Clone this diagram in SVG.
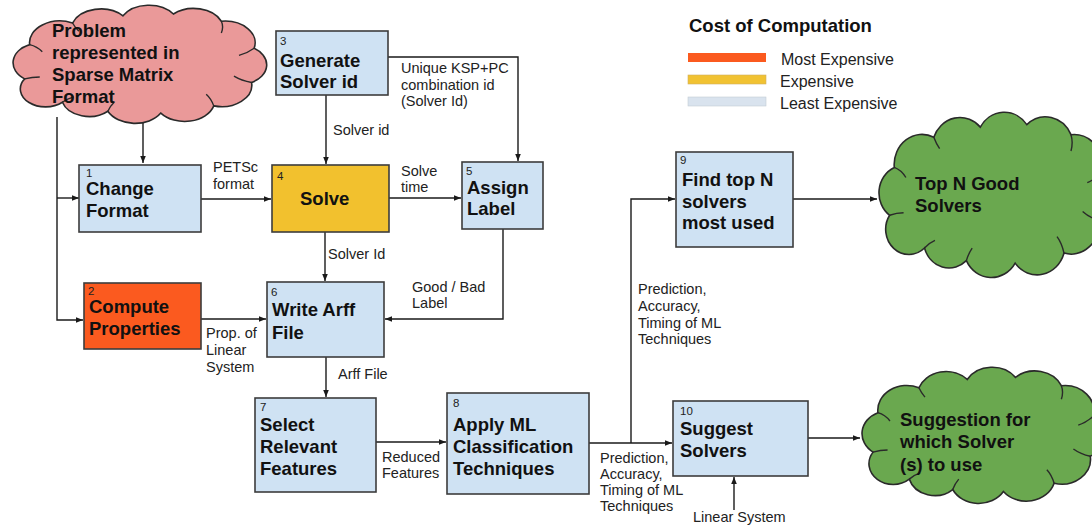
<svg xmlns="http://www.w3.org/2000/svg" xmlns:xlink="http://www.w3.org/1999/xlink" width="1092" height="531" viewBox="0 0 1092 531">
  <style>
    .box { fill: #cfe2f3; stroke: #3c3c3c; stroke-width: 1.6; }
    .title { font-family: "Liberation Sans", Arial, sans-serif; font-weight: bold; font-size: 18.5px; fill: #111; }
    .num { font-family: "Liberation Sans", Arial, sans-serif; font-size: 11.5px; fill: #222; }
    .lbl { font-family: "Liberation Sans", Arial, sans-serif; font-size: 14.5px; fill: #222; }
    .legend { font-family: "Liberation Sans", Arial, sans-serif; font-size: 16px; fill: #222; }
    .conn { fill: none; stroke: #1a1a1a; stroke-width: 1.4; }
    .cloud-edge { stroke: #2a2a2a; stroke-width: 1.6; }
    .cloud-inner { fill: none; stroke: #2a2a2a; stroke-width: 1.4; }
  </style>
  <defs>
    <marker id="arrow" viewBox="0 0 10 10" refX="10" refY="5" markerWidth="7" markerHeight="7" markerUnits="userSpaceOnUse" orient="auto">
      <path d="M0,1 L10,5 L0,9 Z" fill="#1a1a1a"/>
    </marker>
    <!-- generic cloud outline, stretched per node -->
    <symbol id="cloud" viewBox="0 -4 203 131" preserveAspectRatio="none" overflow="visible">
      <path class="cloud-edge" vector-effect="non-scaling-stroke" d="M10,78 A22,22 0 0 1 14,40 A24,24 0 0 1 48,16 A24,24 0 0 1 88,8 A24,24 0 0 1 128,6 A24,24 0 0 1 166,14 A24,24 0 0 1 192,44 A22,22 0 0 1 190,82 A24,24 0 0 1 160,108 A24,24 0 0 1 118,116 A24,24 0 0 1 76,114 A22,22 0 0 1 40,104 A20,20 0 0 1 10,78 Z"/>
      <path class="cloud-inner" vector-effect="non-scaling-stroke" d="M14,40 Q20,42 24,48 M48,16 Q50,21 53,25 M166,14 Q168,20 166,27 M192,44 Q186,50 180,52 M190,82 Q182,80 176,75 M160,108 Q158,100 154,95 M76,114 Q78,108 81,104 M40,104 Q44,100 49,98 M10,78 Q16,76 22,76"/>
    </symbol>
  </defs>

  <rect width="1092" height="531" fill="#ffffff"/>

  <!-- legend -->
  <g id="legend">
    <text x="689" y="32" class="title">Cost of Computation</text>
    <rect x="688" y="53" width="78" height="9" fill="#fb5a1f"/>
    <rect x="688" y="75" width="78" height="9" fill="#f1c232" stroke="#d0b060" stroke-width="0.6"/>
    <rect x="688" y="97" width="78" height="9" fill="#d9e3ee" stroke="#c4ccd4" stroke-width="0.6"/>
    <text x="781" y="65" class="legend">Most Expensive</text>
    <text x="780" y="87" class="legend">Expensive</text>
    <text x="780" y="109" class="legend">Least Expensive</text>
  </g>

  <!-- connectors -->
  <g id="connectors">
    <path class="conn" d="M143,123 V163" marker-end="url(#arrow)"/>
    <path class="conn" d="M57,117 V320 H83" marker-end="url(#arrow)"/>
    <path class="conn" d="M57,198 H79" marker-end="url(#arrow)"/>
    <path class="conn" d="M326,95 V164" marker-end="url(#arrow)"/>
    <path class="conn" d="M388,57 H518 V161" marker-end="url(#arrow)"/>
    <path class="conn" d="M201,199 H271" marker-end="url(#arrow)"/>
    <path class="conn" d="M389,198 H461" marker-end="url(#arrow)"/>
    <path class="conn" d="M325,232 V281" marker-end="url(#arrow)"/>
    <path class="conn" d="M503,229 V319 H385" marker-end="url(#arrow)"/>
    <path class="conn" d="M201,319 H266" marker-end="url(#arrow)"/>
    <path class="conn" d="M326,357 V397" marker-end="url(#arrow)"/>
    <path class="conn" d="M376,442 H446" marker-end="url(#arrow)"/>
    <path class="conn" d="M589,443 H672" marker-end="url(#arrow)"/>
    <path class="conn" d="M631,443 V199 H675" marker-end="url(#arrow)"/>
    <path class="conn" d="M793,199 H877" marker-end="url(#arrow)"/>
    <path class="conn" d="M808,438 H860" marker-end="url(#arrow)"/>
    <path class="conn" d="M734,510 V477" marker-end="url(#arrow)"/>

    <text class="lbl"><tspan x="401" y="73">Unique KSP+PC</tspan><tspan x="401" y="90">combination id</tspan><tspan x="401" y="106">(Solver Id)</tspan></text>
    <text class="lbl" x="333" y="135">Solver id</text>
    <text class="lbl"><tspan x="213" y="172">PETSc</tspan><tspan x="213" y="189">format</tspan></text>
    <text class="lbl"><tspan x="401" y="176">Solve</tspan><tspan x="401" y="192">time</tspan></text>
    <text class="lbl" x="328" y="259">Solver Id</text>
    <text class="lbl"><tspan x="412" y="292">Good / Bad</tspan><tspan x="412" y="308">Label</tspan></text>
    <text class="lbl"><tspan x="206" y="338">Prop. of</tspan><tspan x="206" y="355">Linear</tspan><tspan x="206" y="372">System</tspan></text>
    <text class="lbl" x="338" y="379">Arff File</text>
    <text class="lbl"><tspan x="382" y="462">Reduced</tspan><tspan x="382" y="478">Features</tspan></text>
    <text class="lbl"><tspan x="600" y="463">Prediction,</tspan><tspan x="600" y="479">Accuracy,</tspan><tspan x="600" y="495">Timing of ML</tspan><tspan x="600" y="511">Techniques</tspan></text>
    <text class="lbl"><tspan x="638" y="294">Prediction,</tspan><tspan x="638" y="311">Accuracy,</tspan><tspan x="638" y="328">Timing of ML</tspan><tspan x="638" y="344">Techniques</tspan></text>
    <text class="lbl" x="693" y="522">Linear System</text>
  </g>

  <!-- input cloud -->
  <g id="problem" fill="#ea9999">
    <use xlink:href="#cloud" href="#cloud" x="12" y="5" width="256" height="118"/>
    <text class="title"><tspan x="52" y="37">Problem</tspan><tspan x="52" y="59">represented in</tspan><tspan x="52" y="81">Sparse Matrix</tspan><tspan x="52" y="103">Format</tspan></text>
  </g>

  <g id="node1">
    <rect class="box" x="79" y="165" width="122" height="67"/>
    <text class="num" x="86" y="177">1</text>
    <text class="title"><tspan x="86" y="195">Change</tspan><tspan x="86" y="217">Format</tspan></text>
  </g>

  <g id="node2">
    <rect x="84" y="283" width="117" height="66" fill="#fb5a1f" stroke="#3c3c3c" stroke-width="1.6"/>
    <text class="num" x="88" y="295">2</text>
    <text class="title"><tspan x="89" y="313">Compute</tspan><tspan x="89" y="335">Properties</tspan></text>
  </g>

  <g id="node3">
    <rect class="box" x="276" y="31" width="112" height="64"/>
    <text class="num" x="280" y="45">3</text>
    <text class="title"><tspan x="280" y="67">Generate</tspan><tspan x="280" y="88">Solver id</tspan></text>
  </g>

  <g id="node4">
    <rect x="272" y="165" width="117" height="67" fill="#f2c12e" stroke="#3c3c3c" stroke-width="1.6"/>
    <text class="num" x="277" y="180">4</text>
    <text class="title" x="300" y="205">Solve</text>
  </g>

  <g id="node5">
    <rect class="box" x="462" y="162" width="81" height="67"/>
    <text class="num" x="466" y="175">5</text>
    <text class="title"><tspan x="467" y="194">Assign</tspan><tspan x="467" y="215">Label</tspan></text>
  </g>

  <g id="node6">
    <rect class="box" x="267" y="282" width="117" height="75"/>
    <text class="num" x="271" y="296">6</text>
    <text class="title"><tspan x="272" y="316">Write Arff</tspan><tspan x="272" y="339">File</tspan></text>
  </g>

  <g id="node7">
    <rect class="box" x="255" y="398" width="121" height="94"/>
    <text class="num" x="260" y="411">7</text>
    <text class="title"><tspan x="260" y="431">Select</tspan><tspan x="260" y="453">Relevant</tspan><tspan x="260" y="475">Features</tspan></text>
  </g>

  <g id="node8">
    <rect class="box" x="447" y="393" width="142" height="101"/>
    <text class="num" x="453" y="407">8</text>
    <text class="title"><tspan x="453" y="431">Apply ML</tspan><tspan x="453" y="453">Classification</tspan><tspan x="453" y="475">Techniques</tspan></text>
  </g>

  <g id="node9">
    <rect class="box" x="676" y="152" width="117" height="95"/>
    <text class="num" x="680" y="164">9</text>
    <text class="title"><tspan x="682" y="186">Find top N</tspan><tspan x="682" y="208">solvers</tspan><tspan x="682" y="229">most used</tspan></text>
  </g>

  <g id="node10">
    <rect class="box" x="673" y="401" width="135" height="75"/>
    <text class="num" x="680" y="415">10</text>
    <text class="title"><tspan x="680" y="435">Suggest</tspan><tspan x="680" y="457">Solvers</tspan></text>
  </g>

  <!-- output clouds -->
  <g id="topN" fill="#6aa84f">
    <use xlink:href="#cloud" href="#cloud" x="878" y="112" width="236" height="165"/>
    <text class="title"><tspan x="915" y="190">Top N Good</tspan><tspan x="915" y="212">Solvers</tspan></text>
  </g>

  <g id="suggestion" fill="#6aa84f">
    <use xlink:href="#cloud" href="#cloud" x="861" y="367" width="245" height="136"/>
    <text class="title"><tspan x="900" y="426">Suggestion for</tspan><tspan x="900" y="448">which Solver</tspan><tspan x="900" y="471">(s) to use</tspan></text>
  </g>
</svg>
